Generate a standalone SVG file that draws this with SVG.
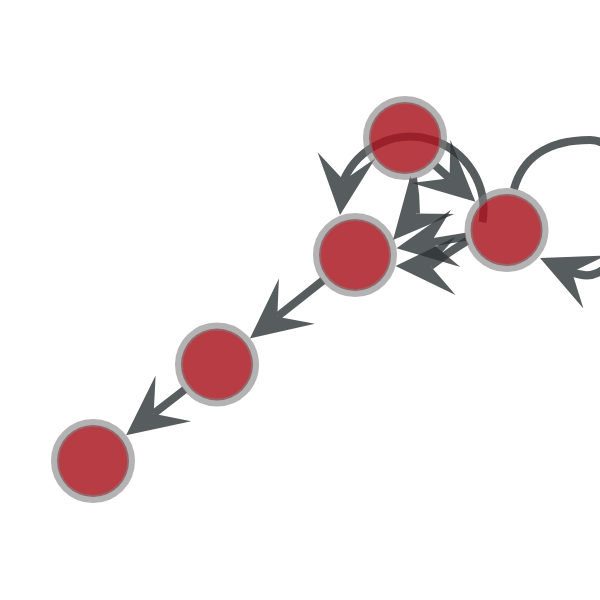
<svg xmlns="http://www.w3.org/2000/svg" width="600" height="600" viewBox="0 0 600 600">
<style>
.e{opacity:0.8}
.e .l{fill:none;stroke:#2e3436;stroke-width:8}
.e polygon{fill:#2e3436}
.n .f{fill:#a8151e;fill-opacity:0.83}
.n .r{fill:none;stroke:#808080;stroke-opacity:0.6;stroke-width:8}
</style>
<rect width="600" height="600" fill="#ffffff"/>
<g id="edges">
  <g class="e" id="e-B-D"><path class="l" d="M322.9,280.5 L277.3,316.7"/><polygon points="249.9,338.4 278.9,278.4 277.3,316.7 314.9,323.8"/></g>
  <g class="e" id="e-D-E"><path class="l" d="M184.7,389.7 L153.7,413.7"/><polygon points="126.1,435.2 155.6,375.5 153.7,413.7 191.2,421.3"/></g>
  <g class="e" id="e-A-C"><path class="l" d="M435.4,165.6 L449.5,178.3"/><polygon points="475.4,201.8 450.5,140 449.5,178.3 411.5,183"/></g>
  <g class="e" id="e-C-B-1"><path class="l" d="M466,236.7 L431,242.5"/><polygon points="396.5,248.2 451,209.8 431,242.5 460.4,267"/></g>
  <g class="e" id="e-A-B"><path class="l" d="M413,178 Q416,196 416,213.6"/><polygon points="393,240 410.5,175.7 416,213.6 454.3,213.9"/></g>
  <g class="e" id="e-C-B-2"><path class="l" d="M467,241 Q449,252 430.5,266"/><polygon points="395.5,266 455.5,237 430.5,266 455.5,295"/></g>
  <g class="e" id="e-C-B-3"><path class="l" d="M482.4,222.2 A73,73 0 0 0 343.7,180.2"/><polygon points="340,215 375.2,158.5 343.7,180.2 317.6,152.3"/></g>
  <g class="e" id="e-C-C"><path class="l" d="M514,189 C522,160 545,140 590,140 C645,140 636,300 572,272"/><polygon points="540,258 606.6,255.4 572,272 583.4,308.6"/></g>
</g>
<g id="node-A" class="n"><circle class="f" cx="405" cy="138" r="36"/><circle class="r" cx="405" cy="138" r="38"/></g>
<g id="node-B" class="n"><circle class="f" cx="355" cy="255" r="36"/><circle class="r" cx="355" cy="255" r="38"/></g>
<g id="node-C" class="n"><circle class="f" cx="506.5" cy="230" r="36"/><circle class="r" cx="506.5" cy="230" r="38"/></g>
<g id="node-D" class="n"><circle class="f" cx="217" cy="364.5" r="36"/><circle class="r" cx="217" cy="364.5" r="38"/></g>
<g id="node-E" class="n"><circle class="f" cx="93" cy="461" r="36"/><circle class="r" cx="93" cy="461" r="38"/></g>
</svg>
